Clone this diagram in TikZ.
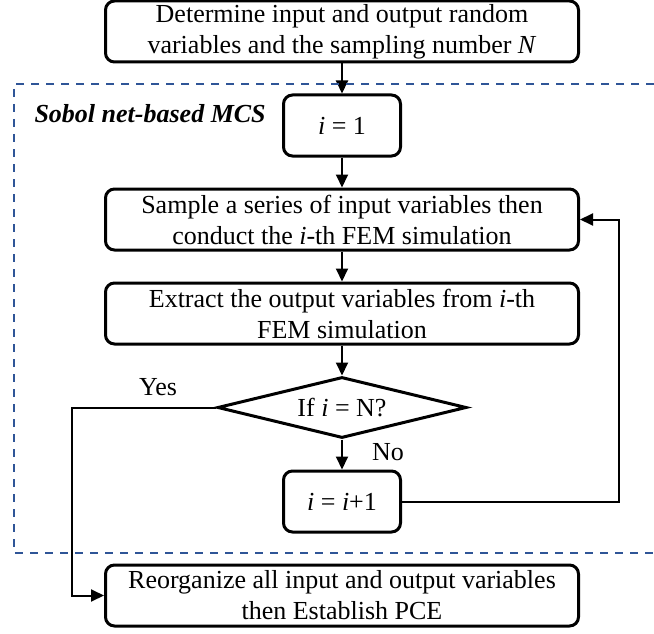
\documentclass[tikz,border=0pt]{standalone}
\usepackage{fontspec}
\setmainfont{Liberation Serif}
\usetikzlibrary{positioning,shapes.geometric,arrows.meta}
\definecolor{mcsblue}{RGB}{47,85,151}

\begin{document}
\begin{tikzpicture}[
                x=1pt, y=1pt,
                node distance=30pt,
                font=\fontsize{26}{31}\selectfont,
                widebox/.style={draw,line width=3pt,rounded corners=9pt,minimum width=473pt,minimum height=61pt,align=center,inner sep=0pt},
                smallbox/.style={draw,line width=3pt,rounded corners=9pt,minimum width=117pt,minimum height=61pt,inner sep=0pt},
                decision/.style={draw,diamond,line width=3pt,aspect=4,minimum width=249pt,minimum height=61pt,inner sep=0pt},
                flow/.style={draw,line width=2pt,-{Triangle[length=13pt,width=12pt]}},
                mcsframe/.style={draw,line width=2pt,dash pattern=on 8pt off 7pt,mcsblue}
                ]
                \useasboundingbox (0,0) rectangle (654,-634);
                \node[widebox] (setup) at (342,-31.5) {Determine input and output random\\variables and the sampling number \textit{N}};
                \node[smallbox, below=of setup] (init) {\textit{i} = 1};
                \node[widebox, below=of init] (sample) {Sample a series of input variables then\\conduct the \textit{i}-th FEM simulation};
                \node[widebox, below=of sample] (extract) {Extract the output variables from \textit{i}-th\\FEM simulation};
                \node[decision, below=of extract] (check) {If \textit{i} = N?};
                \node[smallbox, below=of check] (incr) {\textit{i} = \textit{i}+1};
                \node[widebox, below=of incr] (pce) {Reorganize all input and output variables\\then Establish PCE};
                % labels
                \node[anchor=base west,font=\fontsize{26}{31}\selectfont\bfseries\itshape] (mcs) at (31,-123) {Sobol net-based MCS};
                \node[anchor=base] (yes) at (158,-395) {Yes};
                \node[anchor=base] (no) at (388,-460) {No};
                % connectors
                \draw[flow] (setup) -- (init);
                \draw[flow] (init) -- (sample);
                \draw[flow] (sample) -- (extract);
                \draw[flow] (extract) -- (check);
                \draw[flow] (check) -- (incr);
                \draw[flow] (incr.east) -- ++(217,0) |- (sample.east);
                \draw[flow] (check.west) -- ++(-144,0) |- (pce.west);
                % MCS region
                \draw[mcsframe] (654,-84) -- (14,-84) -- (14,-553) -- (654,-553);
\end{tikzpicture}
\end{document}
